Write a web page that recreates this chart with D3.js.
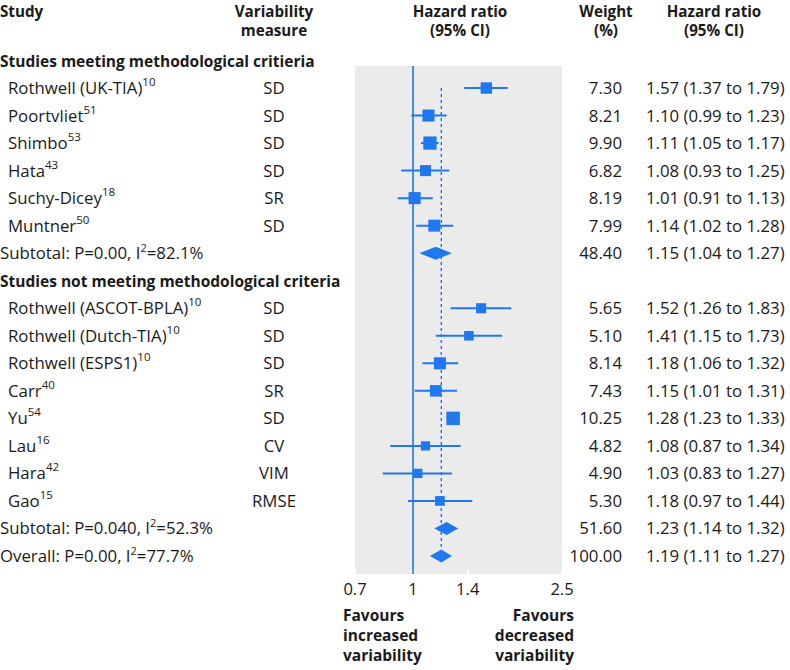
<!DOCTYPE html>
<html><head><meta charset="utf-8">
<script src="https://cdn.jsdelivr.net/npm/d3@7"></script>
<style>body{margin:0;background:#fff}svg{display:block}text{font-family:"Open Sans",sans-serif;fill:#1a1a1a}</style>
</head><body><svg id="c" width="790" height="670"></svg>
<script>
// ---- data ----
const rowTypes = ["group","study","study","study","study","study","study","subtotal","group","study","study","study","study","study","study","study","study","subtotal","overall"];
const rowLabels = ["Studies meeting methodological critieria","Rothwell (UK-TIA)","Poortvliet","Shimbo","Hata","Suchy-Dicey","Muntner","Subtotal: P=0.00, I","Studies not meeting methodological criteria","Rothwell (ASCOT-BPLA)","Rothwell (Dutch-TIA)","Rothwell (ESPS1)","Carr","Yu","Lau","Hara","Gao","Subtotal: P=0.040, I","Overall: P=0.00, I"];
const rowSup = ["","10","51","53","43","18","50","2","","10","10","10","40","54","16","42","15","2","2"];
const rowSuffix = ["","","","","","","","=82.1%","","","","","","","","","","=52.3%","=77.7%"];
const measures = ["","SD","SD","SD","SD","SR","SD","","","SD","SD","SD","SR","SD","CV","VIM","RMSE","",""];
const hr = [null,1.57,1.10,1.11,1.08,1.01,1.14,1.15,null,1.52,1.41,1.18,1.15,1.28,1.08,1.03,1.18,1.23,1.19];
const lo = [null,1.37,0.99,1.05,0.93,0.91,1.02,1.04,null,1.26,1.15,1.06,1.01,1.23,0.87,0.83,0.97,1.14,1.11];
const hi = [null,1.79,1.23,1.17,1.25,1.13,1.28,1.27,null,1.83,1.73,1.32,1.31,1.33,1.34,1.27,1.44,1.32,1.27];
const weights = [null,7.30,8.21,9.90,6.82,8.19,7.99,48.40,null,5.65,5.10,8.14,7.43,10.25,4.82,4.90,5.30,51.60,100.00];
const tickValues = [0.7,1,1.4,2.5];
const overallHR = 1.19;

const blue = "#1f78f0";
const svg = d3.select("#c");
const x = d3.scaleLog().domain([0.7,2.5]).range([355,562]);
const y = d3.scalePoint().domain(d3.range(rowTypes.length)).range([60.5,556]);
const sizeScale = d3.scaleSqrt().domain([0,10.25]).range([0,13.5]);
const panelTop = 66, panelBot = 574;
const FS = 16.8;

// headers
const hdr = svg.append("g").attr("font-weight","bold").attr("font-size",15.2);
const L1 = 17, L2 = 36;
hdr.append("text").attr("x",0).attr("y",L1).text("Study");
[["Variability",L1],["measure",L2]].forEach(([t,yy])=>hdr.append("text").attr("x",274).attr("y",yy).attr("text-anchor","middle").text(t));
[["Hazard ratio",L1],["(95% CI)",L2]].forEach(([t,yy])=>hdr.append("text").attr("x",460).attr("y",yy).attr("text-anchor","middle").text(t));
[["Weight",L1],["(%)",L2]].forEach(([t,yy])=>hdr.append("text").attr("x",606).attr("y",yy).attr("text-anchor","middle").text(t));
[["Hazard ratio",L1],["(95% CI)",L2]].forEach(([t,yy])=>hdr.append("text").attr("x",714).attr("y",yy).attr("text-anchor","middle").text(t));

// panel
svg.append("rect").attr("x",x(0.7)).attr("y",panelTop).attr("width",x(2.5)-x(0.7)).attr("height",panelBot-panelTop).attr("fill","#ebebeb");

// white ticks
svg.append("g").selectAll("line").data(tickValues).join("line")
  .attr("x1",d=>x(d)).attr("x2",d=>x(d)).attr("y1",panelBot-5).attr("y2",panelBot)
  .attr("stroke","#fff").attr("stroke-width",1.5);

// reference lines
svg.append("line").attr("x1",x(1)).attr("x2",x(1)).attr("y1",panelTop).attr("y2",panelBot).attr("stroke",blue).attr("stroke-width",1.6);
svg.append("line").attr("x1",x(overallHR)).attr("x2",x(overallHR)).attr("y1",y(1)).attr("y2",y(18)).attr("stroke",blue).attr("stroke-width",1.4).attr("stroke-dasharray","3,3");

const idx = d3.range(rowTypes.length);
// CI lines and squares
const studies = idx.filter(i=>rowTypes[i]==="study");
svg.append("g").selectAll("line").data(studies).join("line")
  .attr("x1",i=>x(lo[i])).attr("x2",i=>x(hi[i])).attr("y1",i=>y(i)).attr("y2",i=>y(i))
  .attr("stroke",blue).attr("stroke-width",2);
svg.append("g").selectAll("rect").data(studies).join("rect")
  .attr("x",i=>x(hr[i])-sizeScale(weights[i])/2).attr("y",i=>y(i)-sizeScale(weights[i])/2)
  .attr("width",i=>sizeScale(weights[i])).attr("height",i=>sizeScale(weights[i])).attr("fill",blue);
// diamonds
const pooled = idx.filter(i=>rowTypes[i]==="subtotal"||rowTypes[i]==="overall");
svg.append("g").selectAll("path").data(pooled).join("path")
  .attr("d",i=>`M${x(lo[i])},${y(i)}L${x(hr[i])},${y(i)-6.5}L${x(hi[i])},${y(i)}L${x(hr[i])},${y(i)+6.5}Z`)
  .attr("fill",blue);

// left labels
const lab = svg.append("g").attr("font-size",FS);
idx.forEach(i=>{
  const isGroup = rowTypes[i]==="group";
  const t = lab.append("text").attr("y",y(i)+6)
    .attr("x",rowTypes[i]==="study"?8:0)
    .attr("font-size",isGroup?15.5:FS)
    .attr("font-weight",isGroup?"bold":"normal");
  t.append("tspan").text(rowLabels[i]);
  const raise = rowSuffix[i] ? 7 : 8;
  if(rowSup[i]) t.append("tspan").attr("font-size",rowSuffix[i]?11:11.5).attr("dy",-raise).text(rowSup[i]);
  if(rowSuffix[i]) t.append("tspan").attr("dy",raise).text(rowSuffix[i]);
  if(measures[i]) lab.append("text").attr("x",274).attr("y",y(i)+6).attr("text-anchor","middle").text(measures[i]);
  if(weights[i]!=null){
    lab.append("text").attr("x",622).attr("y",y(i)+6).attr("text-anchor","end").text(weights[i].toFixed(2));
    lab.append("text").attr("x",646).attr("y",y(i)+6).text(`${hr[i].toFixed(2)} (${lo[i].toFixed(2)} to ${hi[i].toFixed(2)})`);
  }
});

// axis labels
svg.append("g").attr("font-size",16.5).selectAll("text").data(tickValues).join("text")
  .attr("x",d=>x(d)).attr("y",595).attr("text-anchor","middle").text(d=>d3.format("")(d));

// footer
const ft = svg.append("g").attr("font-size",15.5).attr("font-weight","bold");
["Favours","increased","variability"].forEach((t,k)=>ft.append("text").attr("x",343).attr("y",621+k*20).text(t));
["Favours","decreased","variability"].forEach((t,k)=>ft.append("text").attr("x",574).attr("y",621+k*20).attr("text-anchor","end").text(t));
</script></body></html>
